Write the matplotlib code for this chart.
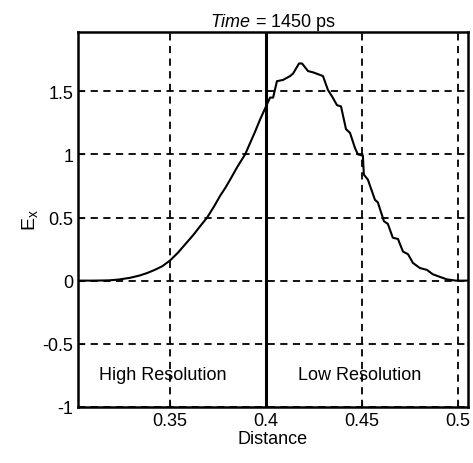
import matplotlib
matplotlib.use("Agg")
import matplotlib.pyplot as plt

plt.rcParams['font.family'] = ['Liberation Sans', 'DejaVu Sans']
plt.rcParams['mathtext.fontset'] = 'custom'
plt.rcParams['mathtext.rm'] = 'Liberation Sans'
plt.rcParams['mathtext.it'] = 'Liberation Sans:italic'

distance = [0.302, 0.31, 0.318, 0.3229, 0.329, 0.334, 0.338, 0.342, 0.346, 0.35,
            0.354, 0.358, 0.362, 0.3656, 0.3693, 0.373, 0.376, 0.379, 0.3813, 0.385,
            0.3891, 0.392, 0.3943, 0.397, 0.4, 0.4021, 0.4037, 0.4057, 0.4089, 0.4125,
            0.4141, 0.4172, 0.4188, 0.4219, 0.4245, 0.4281, 0.4297, 0.4323, 0.4344, 0.4370,
            0.4391, 0.4417, 0.4438, 0.4464, 0.4479, 0.4505, 0.4510, 0.4531, 0.4568, 0.4583,
            0.4615, 0.4635, 0.4661, 0.4688, 0.4714, 0.4740, 0.4766, 0.4802, 0.4839, 0.4870,
            0.4906, 0.4943, 0.4990, 0.5052]
ex = [0.0, 0.0, 0.002, 0.008, 0.022, 0.04, 0.06, 0.085, 0.115, 0.16,
      0.22, 0.29, 0.36, 0.43, 0.5, 0.59, 0.67, 0.74, 0.80, 0.9,
      1.0, 1.1, 1.18, 1.28, 1.38, 1.45, 1.45, 1.58, 1.59, 1.62,
      1.64, 1.72, 1.72, 1.66, 1.65, 1.63, 1.62, 1.51, 1.46, 1.39,
      1.38, 1.20, 1.17, 1.05, 1.0, 0.99, 0.84, 0.80, 0.64, 0.62,
      0.47, 0.45, 0.34, 0.33, 0.23, 0.21, 0.14, 0.10, 0.085, 0.05,
      0.03, 0.01, 0.0, 0.0]

x_ticks = [0.35, 0.4, 0.45, 0.5]
x_labels = ['0.35', '0.4', '0.45', '0.5']
y_ticks = [-1, -0.5, 0, 0.5, 1, 1.5]
y_labels = ['-1', '-0.5', '0', '0.5', '1', '1.5']
boundary = 0.4

fig = plt.figure(figsize=(4.73, 4.64), dpi=100)
ax = fig.add_axes([0.165, 0.121, 0.824, 0.808])

ax.plot(distance, ex, color='black', linewidth=1.5)
ax.axvline(boundary, color='black', linewidth=2.2)

ax.set_xlim(0.302, 0.5052)
ax.set_ylim(-1, 1.97)
ax.set_xticks(x_ticks)
ax.set_xticklabels(x_labels)
ax.set_yticks(y_ticks)
ax.set_yticklabels(y_labels)
ax.tick_params(direction='in', length=4, labelsize=13, color='black')

ax.grid(True, color='black', linestyle=(0, (4, 3)), linewidth=1.3)
for s in ax.spines.values():
    s.set_linewidth(1.8)

ax.text(0.3463, -0.74, 'High Resolution', fontsize=13, ha='center', va='center')
ax.text(0.449, -0.74, 'Low Resolution', fontsize=13, ha='center', va='center')

ax.set_title(r'$\it{Time}$ = 1450 ps', fontsize=13, pad=4)
ax.set_xlabel('Distance', fontsize=13, labelpad=1)
ax.set_ylabel(r'E$_{\rm x}$', fontsize=14, labelpad=2)

fig.savefig('out.png', dpi=100)
